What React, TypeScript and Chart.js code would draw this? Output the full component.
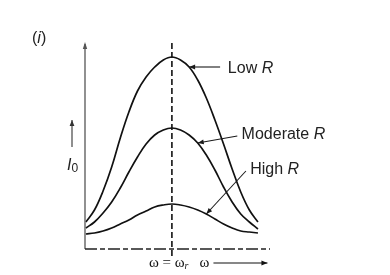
import { useEffect, useRef } from 'react';
import { Chart, registerables } from 'chart.js';

Chart.register(...registerables);

// ω axis positions (arbitrary units, resonance at 10)
const omega = [0, 1, 2, 3, 4, 5, 6, 7, 8, 9, 10, 11, 12, 13, 14, 15, 16, 17, 18, 19, 20];
const resonance = 10;
// current amplitude I0 (arbitrary units)
const lowR = [27, 39, 58, 82, 111, 137, 158, 172, 182, 189, 192, 189, 182, 169, 151, 129, 105, 80, 57, 39, 27];
const moderateR = [21, 27, 36, 47, 61, 77, 92, 105, 114, 119, 121, 119, 114, 106, 94, 79, 62, 47, 35, 27, 20];
const highR = [15, 16, 18, 21, 25, 29, 34, 38, 42, 44, 45, 44, 42, 39, 35, 30, 25, 21, 18, 17, 16];
const seriesNames = ['Low', 'Moderate', 'High'];

const SANS = '"Liberation Sans", Arial, Helvetica, sans-serif';
const SERIF = '"Liberation Serif", "DejaVu Serif", "Times New Roman", serif';
const INK = '#1a1a1a';

// callout layout: label anchor, arrow tail (data units), arrow tip at series point index
const callouts = [
  { series: lowR, index: 12, label: [16.5, 176], tail: [15.6, 182] },
  { series: moderateR, index: 13, label: [18.1, 110], tail: [17.6, 113] },
  { series: highR, index: 14, label: [19.1, 75], tail: [18.6, 78] },
];

function head(ctx: CanvasRenderingContext2D, x1: number, y1: number, x2: number, y2: number, len = 6, w = 2.4) {
  const a = Math.atan2(y2 - y1, x2 - x1);
  ctx.beginPath();
  ctx.moveTo(x2, y2);
  ctx.lineTo(x2 - len * Math.cos(a) + w * Math.sin(a), y2 - len * Math.sin(a) - w * Math.cos(a));
  ctx.lineTo(x2 - len * Math.cos(a) - w * Math.sin(a), y2 - len * Math.sin(a) + w * Math.cos(a));
  ctx.closePath();
  ctx.fill();
}

function arrow(ctx: CanvasRenderingContext2D, x1: number, y1: number, x2: number, y2: number, lw = 1.1) {
  ctx.beginPath();
  ctx.lineWidth = lw;
  ctx.moveTo(x1, y1);
  ctx.lineTo(x2, y2);
  ctx.stroke();
  head(ctx, x1, y1, x2, y2);
}

function rich(ctx: CanvasRenderingContext2D, parts: [string, string, number?][], x: number, y: number) {
  let cx = x;
  for (const [t, f, dy] of parts) {
    ctx.font = f;
    ctx.fillText(t, cx, y + (dy || 0));
    cx += ctx.measureText(t).width;
  }
}

const overlay = {
  id: 'overlay',
  afterDatasetsDraw(chart: any) {
    const { ctx, chartArea: a, scales } = chart;
    const xs = scales.x;
    const ys = scales.y;
    ctx.save();
    ctx.strokeStyle = INK;
    ctx.fillStyle = INK;
    ctx.textBaseline = 'alphabetic';

    // y axis with arrow
    ctx.strokeStyle = '#555';
    ctx.fillStyle = '#555';
    ctx.lineWidth = 1.3;
    ctx.beginPath();
    ctx.moveTo(a.left, a.bottom);
    ctx.lineTo(a.left, a.top + 2);
    ctx.stroke();
    head(ctx, a.left, a.bottom, a.left, a.top, 7, 2.2);

    // x axis (dashed)
    ctx.strokeStyle = '#222';
    ctx.lineWidth = 1.3;
    ctx.setLineDash([12, 3, 5, 3]);
    ctx.beginPath();
    ctx.moveTo(a.left, a.bottom);
    ctx.lineTo(a.right, a.bottom);
    ctx.stroke();

    // resonance line
    const rx = xs.getPixelForValue(resonance);
    ctx.setLineDash([6, 3]);
    ctx.lineWidth = 1.6;
    ctx.strokeStyle = '#111';
    ctx.beginPath();
    ctx.moveTo(rx, a.top + 1);
    ctx.lineTo(rx, a.bottom + 9);
    ctx.stroke();
    ctx.setLineDash([]);

    // callouts
    ctx.strokeStyle = INK;
    ctx.fillStyle = INK;
    callouts.forEach((c, i) => {
      const tx = xs.getPixelForValue(omega[c.index]);
      const ty = ys.getPixelForValue(c.series[c.index]);
      const sx = xs.getPixelForValue(c.tail[0]);
      const sy = ys.getPixelForValue(c.tail[1]);
      arrow(ctx, sx, sy, tx, ty);
      const lx = xs.getPixelForValue(c.label[0]);
      const ly = ys.getPixelForValue(c.label[1]);
      ctx.fillStyle = '#222';
      rich(ctx, [[seriesNames[i] + ' ', `16px ${SANS}`], ['R', `italic 16px ${SANS}`]], lx, ly);
      ctx.fillStyle = INK;
    });

    // panel tag
    ctx.fillStyle = '#222';
    rich(ctx, [['(', `16px ${SANS}`], ['i', `italic 16px ${SANS}`], [')', `16px ${SANS}`]], 32, 43);

    // y label I0 with up arrow
    rich(ctx, [['I', `italic 16px ${SANS}`], ['0', `12px ${SANS}`, 2]], 67, 170);
    ctx.strokeStyle = '#333';
    ctx.fillStyle = '#333';
    arrow(ctx, 72, 147, 72, 120, 1.1);

    // x labels
    ctx.fillStyle = '#111';
    const base = a.bottom + 18;
    ctx.font = `15px ${SERIF}`;
    const eqText = 'ω = ω';
    const eqW = ctx.measureText(eqText).width;
    const ex = rx - 23;
    ctx.fillText(eqText, ex, base);
    ctx.font = `italic 10px ${SERIF}`;
    ctx.fillText('r', ex + eqW, base + 2);
    ctx.font = `15px ${SERIF}`;
    const wx = xs.getPixelForValue(13.2);
    ctx.fillText('ω', wx, base);
    ctx.strokeStyle = '#111';
    ctx.fillStyle = '#111';
    arrow(ctx, wx + 14, base - 4, wx + 68, base - 4, 1.1);

    ctx.restore();
  },
};

export default function App() {
  const ref = useRef<HTMLCanvasElement>(null);
  useEffect(() => {
    if (!ref.current) return;
    const mk = (vals: number[], label: string) => ({
      label,
      data: omega.map((w, i) => ({ x: w, y: vals[i] })),
      borderColor: '#111',
      borderWidth: 1.7,
      pointRadius: 0,
      fill: false,
      tension: 0.4,
    });
    const chart = new Chart(ref.current, {
      type: 'line',
      data: {
        datasets: [mk(lowR, 'Low R'), mk(moderateR, 'Moderate R'), mk(highR, 'High R')],
      },
      options: {
        responsive: false,
        animation: false,
        devicePixelRatio: 1,
        layout: { padding: { left: 85, right: 120, top: 42, bottom: 26 } },
        plugins: { legend: { display: false }, tooltip: { enabled: false } },
        scales: {
          x: { type: 'linear', min: -0.1, max: 21.4, display: false },
          y: { type: 'linear', min: 0, max: 207, display: false },
        },
      },
      plugins: [overlay],
    });
    return () => chart.destroy();
  }, []);
  return (
    <div style={{ position: 'fixed', left: 0, top: 0, width: 390, height: 275, background: '#fff' }}>
      <canvas ref={ref} width={390} height={275} />
    </div>
  );
}
